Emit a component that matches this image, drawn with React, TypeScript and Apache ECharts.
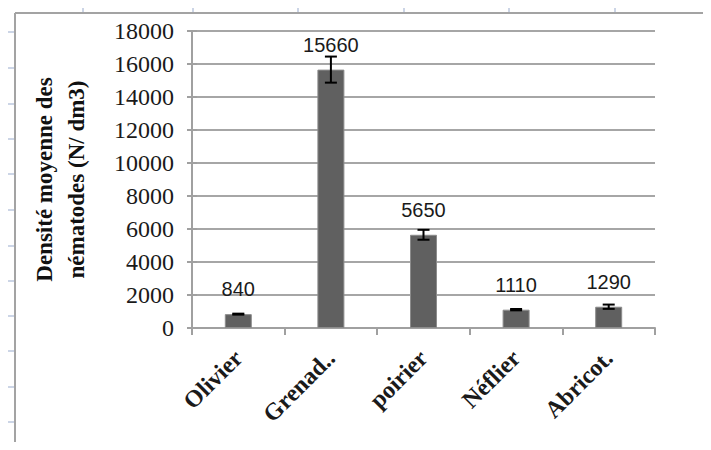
import React, { useEffect, useRef } from "react";
import * as echarts from "echarts";

const categories = ["Olivier", "Grenad..", "poirier", "Néflier", "Abricot."];
const densities = [840, 15660, 5650, 1110, 1290];
const errors = [30, 790, 300, 40, 130];
const yTicks = { min: 0, max: 18000, interval: 2000 };
const yAxisTitle = "Densité moyenne des\nnématodes (N/ dm3)";

export default function App() {
  const ref = useRef<HTMLDivElement>(null);
  useEffect(() => {
    if (!ref.current) return;
    const chart = echarts.init(ref.current, null, { renderer: "svg" });
    const frameColor = "#a3a3a3";
    const rulerColor = "#ccd5e6";
    const leftMarks = [32, 68, 104, 139, 174, 210, 246, 281, 316, 351, 387, 422];
    const topMarks = [83, 193, 298, 404, 509, 615];
    const graphics: any[] = [
      { type: "line", shape: { x1: 15, y1: 13, x2: 15, y2: 450 }, style: { stroke: frameColor, lineWidth: 2 } },
      { type: "line", shape: { x1: 15, y1: 13, x2: 711, y2: 13 }, style: { stroke: frameColor, lineWidth: 2 } },
      ...leftMarks.map((y) => ({ type: "line", shape: { x1: 7, y1: y, x2: 14, y2: y }, style: { stroke: rulerColor, lineWidth: 2 } })),
      ...topMarks.map((x) => ({ type: "line", shape: { x1: x, y1: 6, x2: x, y2: 12 }, style: { stroke: rulerColor, lineWidth: 2 } })),
    ];
    const serif = "'Liberation Serif', 'Times New Roman', serif";
    chart.setOption({
      animation: false,
      backgroundColor: "#ffffff",
      graphic: graphics,
      grid: { left: 192, right: 56, top: 31, bottom: 122, containLabel: false },
      xAxis: {
        type: "category",
        data: categories,
        axisLine: { lineStyle: { color: "#a0a0a0", width: 2 } },
        axisTick: { show: true, length: 7, lineStyle: { color: "#a0a0a0", width: 2 } },
        axisLabel: {
          rotate: 45,
          margin: 26,
          fontFamily: serif,
          fontWeight: "bold",
          fontSize: 24,
          color: "#1a1a1a",
        },
      },
      yAxis: [
        {
          type: "value",
          min: yTicks.min,
          max: yTicks.max,
          interval: yTicks.interval,
          name: yAxisTitle,
          nameLocation: "middle",
          nameGap: 100,
          nameTextStyle: {
            fontFamily: serif,
            fontWeight: "bold",
            fontSize: 23,
            lineHeight: 32,
            color: "#111",
          },
          axisLine: { show: true, lineStyle: { color: "#a0a0a0", width: 2 } },
          axisTick: { show: true, length: 5, lineStyle: { color: "#a0a0a0", width: 2 } },
          axisLabel: {
            margin: 18,
            fontFamily: serif,
            fontSize: 24,
            color: "#1a1a1a",
            formatter: (v: number) => String(v),
          },
          splitLine: { show: true, lineStyle: { color: "#a6a6a6", width: 2 } },
        },
        {
          type: "value",
          position: "left",
          min: yTicks.min,
          max: yTicks.max,
          interval: yTicks.interval,
          axisLine: { show: false },
          axisTick: { show: true, inside: true, length: 5, lineStyle: { color: "#a0a0a0", width: 2 } },
          axisLabel: { show: false },
          splitLine: { show: false },
        },
      ],
      series: [
        {
          type: "bar",
          data: densities,
          barWidth: 27,
          itemStyle: { color: "#606060", borderColor: "#8c8c8c", borderWidth: 1 },
          label: {
            show: true,
            position: "top",
            distance: 15,
            fontFamily: "'Liberation Sans', Arial, sans-serif",
            fontSize: 20,
            color: "#1a1a1a",
          },
          z: 2,
        },
        {
          type: "custom",
          data: densities.map((v, i) => [i, v - errors[i], v + errors[i]]),
          renderItem: (params: any, api: any) => {
            const x = api.coord([api.value(0), 0])[0];
            const lo = api.coord([api.value(0), api.value(1)])[1];
            const hi = api.coord([api.value(0), api.value(2)])[1];
            const half = 6;
            const style = { stroke: "#000", lineWidth: 2 };
            return {
              type: "group",
              children: [
                { type: "line", shape: { x1: x, y1: lo, x2: x, y2: hi }, style },
                { type: "line", shape: { x1: x - half, y1: lo, x2: x + half, y2: lo }, style },
                { type: "line", shape: { x1: x - half, y1: hi, x2: x + half, y2: hi }, style },
              ],
            };
          },
          z: 3,
        },
      ],
    });
    return () => chart.dispose();
  }, []);
  return <div ref={ref} style={{ width: 711, height: 450, margin: -8 }} />;
}
